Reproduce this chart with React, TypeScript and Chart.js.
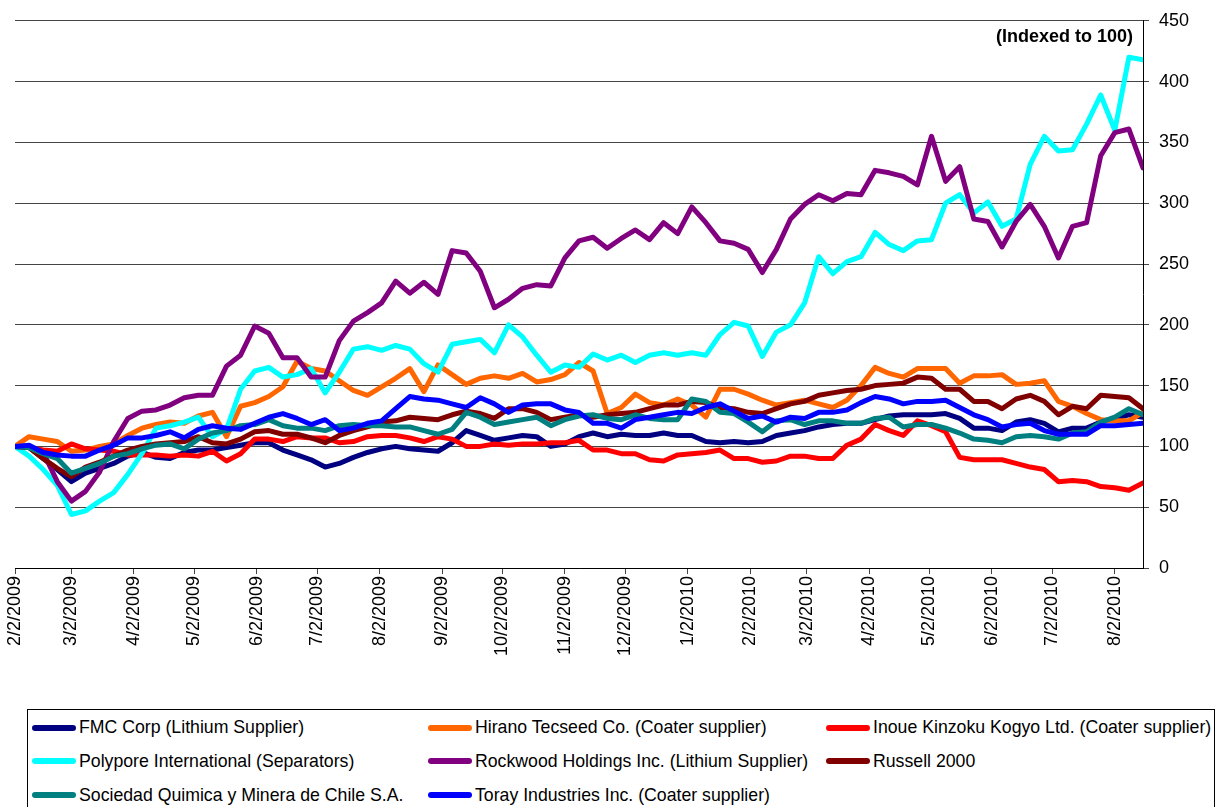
import React, { useEffect, useRef } from 'react';
import { Chart, registerables } from 'chart.js';

Chart.register(...registerables);

const FONT = '"Liberation Sans", Arial, Helvetica, sans-serif';

const seriesNames = [
  'FMC Corp (Lithium Supplier)',
  'Hirano Tecseed Co. (Coater supplier)',
  'Inoue Kinzoku Kogyo Ltd. (Coater supplier)',
  'Polypore International (Separators)',
  'Rockwood Holdings Inc. (Lithium Supplier)',
  'Russell 2000',
  'Sociedad Quimica y Minera de Chile S.A.',
  'Toray Industries Inc. (Coater supplier)',
];

const seriesColors = ['#000080', '#FF6600', '#FF0000', '#00FFFF', '#800080', '#800000', '#008080', '#0000FF'];

// weekly closes, indexed to 100 on 2/2/2009
const fmc = [
  100, 99, 90, 81, 71, 78, 82, 86, 92, 95, 91,
  90, 95, 97, 97, 99, 101, 103, 103, 97, 93,
  89, 83, 86, 91, 95, 98, 100, 98, 97, 96,
  103, 113, 109, 105, 107, 109, 108, 100, 102, 108,
  111, 108, 110, 109, 109, 111, 109, 109, 104, 103,
  104, 103, 104, 109, 111, 113, 116, 118, 119, 119,
  122, 125, 126, 126, 126, 127, 123, 115, 115, 113,
  120, 122, 119, 112, 115, 115, 120, 123, 126, 124,
];
const hirano = [
  100, 108, 106, 104, 96, 97, 100, 102, 109, 115, 118,
  120, 119, 125, 128, 108, 133, 136, 141, 149, 170,
  164, 162, 154, 146, 142, 149, 156, 164, 145, 167,
  159, 151, 156, 158, 156, 160, 153, 155, 159, 169,
  162, 127, 132, 143, 136, 134, 139, 134, 124, 147,
  147, 143, 138, 134, 136, 138, 135, 132, 138, 150,
  165, 160, 157, 164, 164, 164, 152, 158, 158, 159,
  151, 152, 154, 137, 133, 127, 122, 121, 121, 128,
];
const inoue = [
  100, 99, 97, 96, 102, 98, 97, 96, 93, 93, 93,
  92, 93, 92, 96, 88, 94, 106, 106, 104, 108,
  107, 107, 103, 104, 108, 109, 109, 107, 104, 108,
  106, 100, 100, 102, 101, 102, 102, 103, 103, 105,
  97, 97, 94, 94, 89, 88, 93, 94, 95, 97,
  90, 90, 87, 88, 92, 92, 90, 90, 101, 106,
  118, 113, 109, 121, 117, 112, 91, 89, 89, 89,
  86, 83, 81, 71, 72, 71, 67, 66, 64, 70,
];
const polypore = [
  100, 92, 81, 68, 44, 47, 55, 62, 77, 94, 115,
  117, 120, 124, 108, 114, 147, 162, 165, 157, 159,
  164, 144, 161, 180, 182, 179, 183, 180, 168, 161,
  184, 186, 188, 177, 200, 190, 175, 161, 167, 165,
  176, 171, 175, 169, 175, 177, 175, 177, 175, 192,
  202, 199, 174, 194, 200, 218, 256, 242, 252, 256,
  276, 266, 261, 269, 270, 300, 307, 292, 301, 281,
  287, 332, 355, 343, 344, 365, 389, 360, 420, 418,
];
const rockwood = [
  100, 99, 95, 71, 55, 63, 79, 104, 123, 129, 130,
  134, 140, 142, 142, 166, 175, 199, 193, 173, 173,
  157, 157, 187, 203, 210, 218, 236, 226, 235, 225,
  261, 259, 244, 214, 221, 230, 233, 232, 255, 269,
  272, 263, 271, 278, 270, 284, 275, 297, 284, 269,
  267, 262, 243, 262, 287, 299, 307, 302, 308, 307,
  327, 325, 322, 315, 355, 318, 330, 287, 285, 264,
  285, 299, 281, 255, 281, 284, 339, 358, 361, 329,
];
const russell = [
  100, 99, 90, 82, 75, 83, 87, 92, 97, 100, 102,
  103, 104, 108, 103, 102, 106, 112, 113, 110, 110,
  107, 103, 109, 113, 116, 120, 121, 124, 123, 122,
  126, 129, 127, 123, 131, 131, 128, 122, 124, 126,
  124, 126, 127, 128, 131, 134, 134, 137, 136, 132,
  131, 128, 127, 131, 135, 137, 142, 144, 146, 147,
  150, 151, 152, 157, 156, 147, 147, 137, 137, 131,
  139, 142, 137, 126, 133, 131, 142, 141, 140, 131,
];
const sqm = [
  100, 99, 94, 90, 78, 82, 86, 92, 94, 98, 101,
  102, 98, 106, 111, 113, 117, 118, 122, 117, 115,
  115, 113, 117, 118, 117, 117, 116, 116, 113, 110,
  114, 128, 124, 118, 120, 122, 124, 117, 122, 125,
  126, 123, 122, 126, 123, 122, 122, 139, 137, 128,
  127, 120, 112, 121, 122, 118, 121, 121, 119, 119,
  123, 124, 116, 118, 118, 115, 111, 106, 105, 103,
  108, 109, 108, 106, 111, 112, 120, 124, 131, 126,
];
const toray = [
  100, 101, 95, 93, 92, 92, 97, 101, 107, 107, 109,
  112, 107, 114, 117, 115, 114, 119, 124, 127, 123,
  118, 122, 113, 115, 119, 121, 131, 141, 139, 138,
  135, 132, 140, 135, 128, 134, 135, 135, 130, 128,
  119, 119, 115, 122, 124, 126, 128, 127, 132, 135,
  129, 123, 125, 120, 124, 123, 128, 128, 130, 136,
  141, 139, 135, 137, 137, 138, 132, 126, 122, 116,
  118, 119, 113, 110, 110, 110, 117, 117, 118, 119,
];

const seriesValues = [fmc, hirano, inoue, polypore, rockwood, russell, sqm, toray];

// observation dates: one per week starting Monday 2/2/2009 (days since start)
const weekDays = fmc.map((_, i) => i * 7);

// monthly axis ticks (days since 2/2/2009) and their labels
const tickDays = [0, 28, 59, 89, 120, 150, 181, 212, 242, 273, 303, 334, 365, 393, 424, 454, 485, 515, 546];
const tickLabels = [
  '2/2/2009', '3/2/2009', '4/2/2009', '5/2/2009', '6/2/2009', '7/2/2009', '8/2/2009', '9/2/2009',
  '10/2/2009', '11/2/2009', '12/2/2009', '1/2/2010', '2/2/2010', '3/2/2010', '4/2/2010', '5/2/2010',
  '6/2/2010', '7/2/2010', '8/2/2010',
];

const indexNote = '(Indexed to 100)';

const notePlugin = {
  id: 'indexNote',
  beforeDatasetsDraw(chart: any) {
    const { ctx, chartArea } = chart;
    ctx.save();
    ctx.font = `bold 18px ${FONT}`;
    ctx.fillStyle = '#000';
    ctx.textAlign = 'right';
    ctx.textBaseline = 'middle';
    ctx.fillText(indexNote, chartArea.right - 10, chartArea.top + 16);
    ctx.restore();
  },
};

const legendLeft = [32, 428, 826];

export default function App() {
  const ref = useRef<HTMLCanvasElement | null>(null);

  useEffect(() => {
    if (!ref.current) return;
    const chart = new Chart(ref.current, {
      type: 'line',
      data: {
        datasets: seriesNames.map((name, i) => ({
          label: name,
          data: seriesValues[i].map((v, k) => ({ x: weekDays[k], y: v })),
          borderColor: seriesColors[i],
          backgroundColor: seriesColors[i],
          borderWidth: 5,
          pointRadius: 0,
          tension: 0,
          fill: false,
          borderJoinStyle: 'round',
          borderCapStyle: 'round',
          order: seriesNames.length - 1 - i,
        })),
      },
      options: {
        animation: false,
        responsive: false,
        maintainAspectRatio: false,
        devicePixelRatio: 1,
        events: [],
        layout: { padding: { left: 15, top: 16, right: 0, bottom: 0 } },
        plugins: {
          legend: { display: false },
          tooltip: { enabled: false },
        },
        scales: {
          x: {
            type: 'linear',
            min: 0,
            max: 560,
            afterBuildTicks: (s: any) => {
              s.ticks = tickDays.map((v) => ({ value: v }));
            },
            afterFit: (s: any) => {
              s.height = 112;
            },
            ticks: {
              autoSkip: false,
              maxRotation: 90,
              minRotation: 90,
              padding: 2,
              color: '#000',
              font: { family: FONT, size: 18 },
              callback: (_v: any, idx: number) => tickLabels[idx],
            },
            grid: { drawOnChartArea: false, drawTicks: true, tickLength: 6, color: '#444' },
            border: { color: '#000', width: 1 },
          },
          y: {
            position: 'right',
            min: 0,
            max: 450,
            afterFit: (s: any) => {
              s.width = 82;
            },
            ticks: {
              stepSize: 50,
              padding: 10,
              color: '#000',
              font: { family: FONT, size: 18 },
            },
            grid: { color: '#444', lineWidth: 1, tickLength: 6 },
            border: { color: '#000', width: 1 },
          },
        },
      },
      plugins: [notePlugin],
    } as any);
    return () => chart.destroy();
  }, []);

  return (
    <div style={{ position: 'absolute', left: 0, top: 0, width: 1225, height: 807, overflow: 'hidden', background: '#fff' }}>
      <canvas ref={ref} width={1225} height={680} style={{ display: 'block', width: 1225, height: 680 }} />
      <div
        style={{
          position: 'absolute',
          left: 27,
          top: 709,
          width: 1188,
          height: 120,
          border: '1px solid #000',
          boxSizing: 'border-box',
          fontFamily: FONT,
          fontSize: 17.7,
          color: '#000',
        }}
      >
        {seriesNames.map((name, i) => {
          const col = i % 3;
          const row = Math.floor(i / 3);
          return (
            <div
              key={name}
              style={{
                position: 'absolute',
                left: legendLeft[col] - 28,
                top: 17.5 + row * 33.8 - 12,
                height: 24,
                display: 'flex',
                alignItems: 'center',
                whiteSpace: 'nowrap',
              }}
            >
              <span
                style={{
                  display: 'inline-block',
                  width: 44,
                  height: 6,
                  borderRadius: 3,
                  background: seriesColors[i],
                  marginRight: 3,
                }}
              />
              <span>{name}</span>
            </div>
          );
        })}
      </div>
    </div>
  );
}
